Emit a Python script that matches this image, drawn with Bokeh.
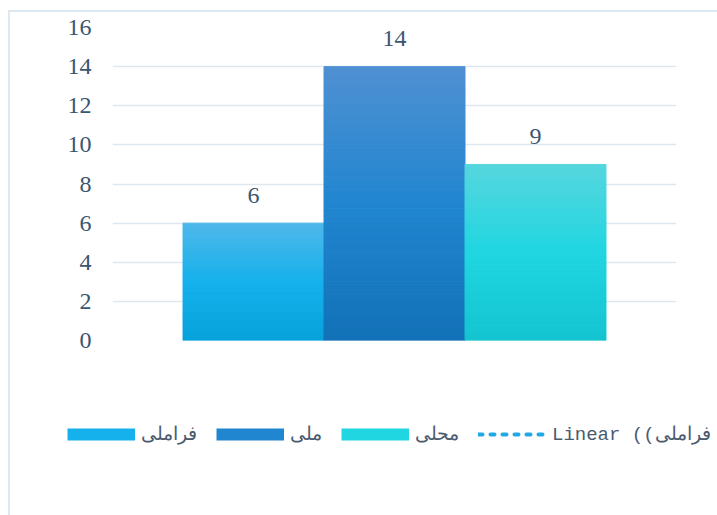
from bokeh.plotting import figure
from bokeh.models import (ColumnDataSource, FactorRange, Range1d, Legend, LegendItem,
                          FixedTicker)
from bokeh.layouts import column
from bokeh.core.properties import value
from bokeh.embed import file_html
from bokeh.resources import INLINE

# ---- data ----
series = ["فراملی", "ملی", "محلی"]
values = [6, 14, 9]
y_ticks = [0, 2, 4, 6, 8, 10, 12, 14, 16]
trend_label = "Linear ((فراملی"

# gradient stops (top, middle, bottom) per series
grad_top = ["#4FB7E9", "#4F90D2", "#56D6DE"]
grad_mid = ["#15B1EC", "#2186D0", "#20D6E1"]
grad_bot = ["#06A2DB", "#1271B7", "#13C4D0"]
trend_color = "#22A8E4"

TEXT = "#3B5670"
GRID = "#DDE7F0"
W = 707


def hex2rgb(h):
    h = h.lstrip("#")
    return tuple(int(h[i:i + 2], 16) for i in (0, 2, 4))


def mix(c1, c2, t):
    a, b = hex2rgb(c1), hex2rgb(c2)
    return "#%02x%02x%02x" % tuple(round(a[k] + (b[k] - a[k]) * t) for k in range(3))


def grad_color(k, t):  # t: 0 at top, 1 at bottom
    if t < 0.5:
        return mix(grad_top[k], grad_mid[k], t / 0.5)
    return mix(grad_mid[k], grad_bot[k], (t - 0.5) / 0.5)


# ---------------- chart ----------------
p = figure(width=W, height=340, output_backend="svg", toolbar_location=None,
           x_range=FactorRange(factors=series, range_padding=1 / 3),
           y_range=Range1d(0, 16),
           min_border_left=102, min_border_right=41,
           min_border_top=15, min_border_bottom=12)
p.frame_align = False
p.outline_line_color = None
p.background_fill_color = "white"
p.border_fill_color = "white"

p.xaxis.visible = False
p.xgrid.visible = False
p.ygrid.grid_line_color = GRID
p.ygrid.grid_line_width = 1.5
p.ygrid.ticker = FixedTicker(ticks=y_ticks)

ax = p.yaxis[0]
ax.ticker = FixedTicker(ticks=y_ticks)
ax.axis_line_color = None
ax.major_tick_line_color = None
ax.minor_tick_line_color = None
ax.major_tick_out = 0
ax.major_tick_in = 0
ax.major_label_standoff = 21
ax.major_label_text_font = "Liberation Serif"
ax.major_label_text_font_size = "24px"
ax.major_label_text_color = TEXT

N = 60
for k, (s, v) in enumerate(zip(series, values)):
    xs, bots, tops, cols = [], [], [], []
    for i in range(N):
        xs.append(s)
        bots.append(v * i / N)
        tops.append(v * (i + 1) / N)
        cols.append(grad_color(k, 1 - (i + 0.5) / N))
    src = ColumnDataSource(dict(x=xs, bottom=bots, top=tops, color=cols))
    p.vbar(x="x", bottom="bottom", top="top", width=1.0, source=src,
           fill_color="color", line_color="color", line_width=1)

# data labels
lab_src = ColumnDataSource(dict(x=series, y=values, t=[str(v) for v in values]))
p.text(x="x", y="y", text="t", source=lab_src, text_align="center",
       text_baseline="alphabetic", y_offset=-28,
       text_font=value("Liberation Serif"), text_font_size="24px", text_color=TEXT)

# ---------------- legend strip ----------------
q = figure(width=W, height=163, output_backend="svg", toolbar_location=None,
           x_range=Range1d(0, 1), y_range=Range1d(0, 1),
           min_border_left=0, min_border_right=0, min_border_top=0, min_border_bottom=0)
q.frame_align = False
q.axis.visible = False
q.grid.visible = False
q.outline_line_color = None
q.background_fill_color = "white"
q.border_fill_color = "white"

# legend-only renderers (placed outside the visible range); thick lines act as swatches
items = []
for k in range(3):
    r = q.line(x=[5, 6], y=[-values[k], -values[k]], line_color=grad_mid[k],
               line_width=12, line_cap="butt")
    items.append(LegendItem(label=series[k], renderers=[r]))
tr = q.line(x=[5, 6], y=[-values[0], -values[0]], line_color=trend_color, line_width=4,
            line_dash="4 8", line_cap="round")
items.append(LegendItem(label=trend_label, renderers=[tr]))

legend = Legend(items=items, orientation="horizontal", location=(57, 69),
                glyph_width=68, glyph_height=14, label_standoff=6, spacing=19,
                padding=0, margin=0, border_line_color=None,
                background_fill_alpha=0,
                label_text_font="Liberation Mono", label_text_font_size="19px",
                label_text_color="#4A5B6E")
q.add_layout(legend, "center")

lay = column(p, q, spacing=0,
             styles={"border-left": "2px solid #DEE8F0", "border-top": "2px solid #DEE8F0",
                     "margin-top": "10px", "margin-left": "8px"})

open("out.html", "w").write(file_html(lay, INLINE))
